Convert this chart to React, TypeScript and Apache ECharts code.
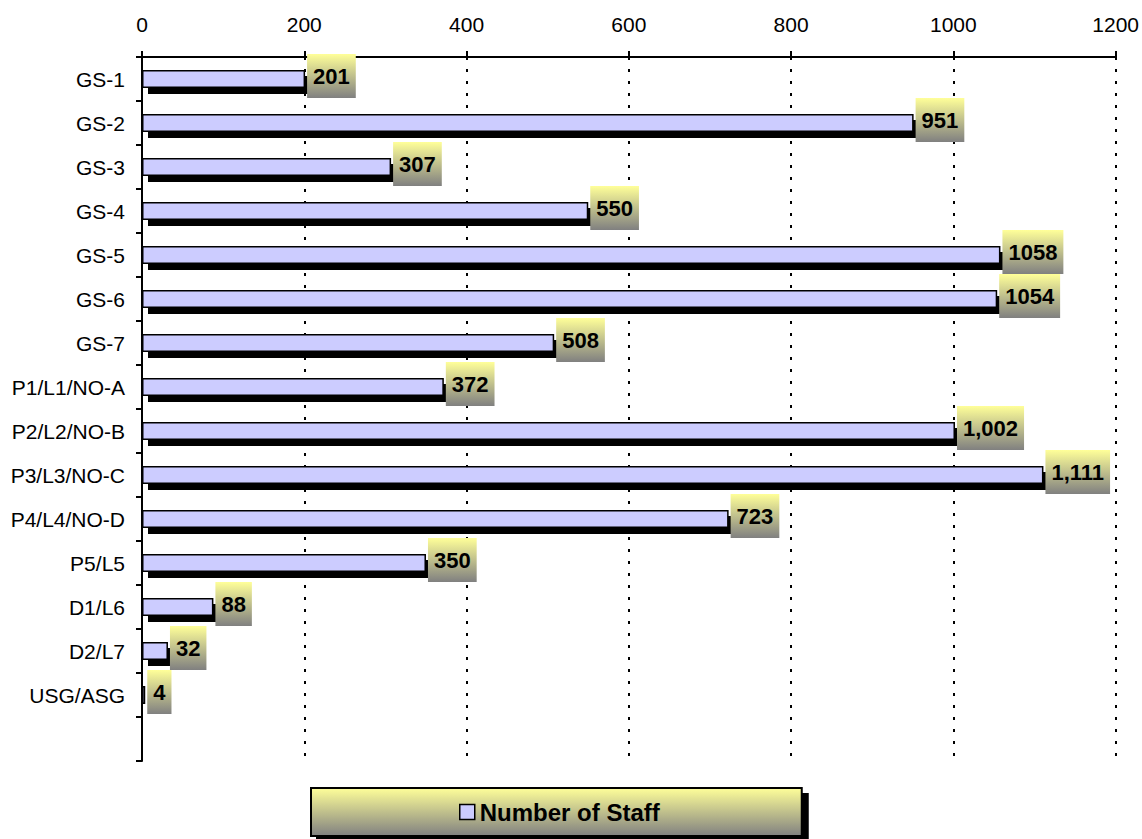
import React, { useEffect, useRef } from "react";
import * as echarts from "echarts";

const categories = [
  "GS-1", "GS-2", "GS-3", "GS-4", "GS-5", "GS-6", "GS-7",
  "P1/L1/NO-A", "P2/L2/NO-B", "P3/L3/NO-C", "P4/L4/NO-D",
  "P5/L5", "D1/L6", "D2/L7", "USG/ASG", "",
];
const staff = [201, 951, 307, 550, 1058, 1054, 508, 372, 1002, 1111, 723, 350, 88, 32, 4];
const valueLabels = ["201", "951", "307", "550", "1058", "1054", "508", "372", "1,002", "1,111", "723", "350", "88", "32", "4"];
const xMin = 0;
const xMax = 1200;
const xInterval = 200;
const seriesName = "Number of Staff";

const FONT = 'Arial, "Liberation Sans", sans-serif';

export default function App() {
  const ref = useRef<HTMLDivElement>(null);
  useEffect(() => {
    if (!ref.current) return;
    const chart = echarts.init(ref.current, null, { renderer: "svg" });
    const yellowGrad = () =>
      new echarts.graphic.LinearGradient(0, 0, 0, 1, [
        { offset: 0, color: "#FFFF99" },
        { offset: 1, color: "#808080" },
      ]);
    chart.setOption({
      animation: false,
      backgroundColor: "#fff",
      grid: { left: 142, right: 23, top: 57, bottom: 78 },
      legend: {
        data: [seriesName],
        left: 311,
        top: 788,
        padding: [12, 142, 12, 148],
        backgroundColor: yellowGrad(),
        borderColor: "#000",
        borderWidth: 2,
        shadowColor: "#000",
        shadowBlur: 0,
        shadowOffsetX: 6,
        shadowOffsetY: 6,
        icon: "rect",
        itemWidth: 15,
        itemHeight: 15,
        itemStyle: {
          color: "#CCCCFF",
          borderColor: "#000",
          borderWidth: 1.5,
          shadowBlur: 0,
          shadowOffsetX: 0,
          shadowOffsetY: 0,
          shadowColor: "rgba(0,0,0,0)",
        },
        textStyle: { fontSize: 24, fontWeight: "bold", color: "#000", fontFamily: FONT },
        selectedMode: false,
      },
      xAxis: {
        type: "value",
        position: "top",
        min: xMin,
        max: xMax,
        interval: xInterval,
        axisLine: { show: true, lineStyle: { color: "#000", width: 2 } },
        axisTick: { show: true, inside: false, length: 6, lineStyle: { color: "#000", width: 2 } },
        axisLabel: {
          margin: 22,
          fontSize: 21,
          color: "#000",
          fontFamily: FONT,
          formatter: (v: number) => String(v),
        },
        splitLine: {
          show: true,
          lineStyle: { color: "#000", width: 2, type: [3, 9] },
        },
      },
      yAxis: {
        type: "category",
        data: categories,
        inverse: true,
        axisLine: { show: true, lineStyle: { color: "#000", width: 2 } },
        axisTick: { show: true, length: 6, lineStyle: { color: "#000", width: 2 } },
        axisLabel: { margin: 17, fontSize: 21, color: "#000", fontFamily: FONT, interval: 0 },
        splitLine: { show: false },
      },
      series: [
        {
          name: seriesName,
          type: "bar",
          data: staff,
          barWidth: 18,
          itemStyle: {
            color: "#CCCCFF",
            borderColor: "#000",
            borderWidth: 1.5,
            shadowColor: "#000",
            shadowBlur: 0,
            shadowOffsetX: 6,
            shadowOffsetY: 6,
          },
          label: {
            show: true,
            position: "right",
            distance: 2,
            offset: [0, -3],
            formatter: (p: any) => valueLabels[p.dataIndex],
            fontSize: 22,
            fontWeight: "bold",
            fontFamily: FONT,
            color: "#000",
            backgroundColor: yellowGrad(),
            padding: [12, 6, 8, 6],
            lineHeight: 24,
          },
          emphasis: { disabled: true },
        },
      ],
    });
    return () => chart.dispose();
  }, []);
  return (
    <div
      ref={ref}
      style={{ position: "absolute", left: 0, top: 0, width: 1142, height: 839 }}
    />
  );
}
